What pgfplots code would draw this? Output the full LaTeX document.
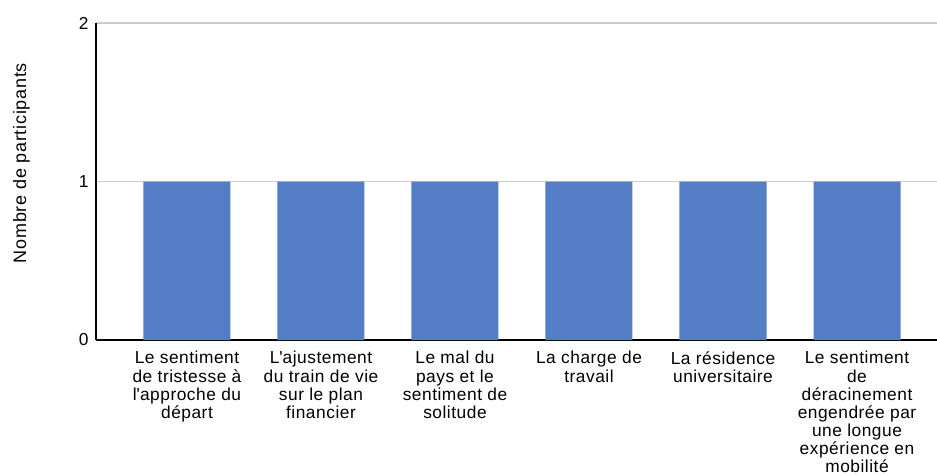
\documentclass[border=0pt]{standalone}
\usepackage{pgfplots}
\pgfplotsset{compat=1.18}
\usepackage{fontspec}
\setmainfont{Liberation Sans}
\definecolor{barblue}{RGB}{83,125,196}
\definecolor{gridgray}{RGB}{204,204,204}
\newcommand{\q}{\textquotesingle}
\begin{document}
\begin{tikzpicture}
\path[use as bounding box] (-72pt,-101.25pt) rectangle (630.75pt,255pt);
\begin{axis}[
  at={(0,0)}, anchor=south west,
  x=100.5pt, y=118.875pt,
  xmin=-0.679, xmax=5.597,
  ymin=0, ymax=2,
  axis x line=bottom, axis y line=left,
  axis line style={-, black, line width=0.9pt},
  ytick={0,1,2},
  ymajorgrids,
  grid style={gridgray, line width=0.8pt},
  major tick length=0pt,
  xtick={0,1,2,3,4,5},
  xticklabels={
    {Le sentiment\\de tristesse à\\l\q approche du\\départ},
    {L\q ajustement\\du train de vie\\sur le plan\\financier},
    {Le mal du\\pays et le\\sentiment de\\solitude},
    {La charge de\\travail},
    {La résidence\\universitaire},
    {Le sentiment\\de\\déracinement\\engendrée par\\une longue\\expérience en\\mobilité}},
  xticklabel style={align=center, font=\fontsize{13}{13.6}\selectfont\addfontfeature{LetterSpace=3}, anchor=north, yshift=-5pt},
  yticklabel style={font=\fontsize{13}{13.6}\selectfont, xshift=-2pt},
  /pgf/number format/assume math mode=true,
  ylabel={Nombre de participants},
  ylabel style={font=\fontsize{13.5}{14}\selectfont\addfontfeature{LetterSpace=4}, at={(axis description cs:0,0.558)}, anchor=south, yshift=46pt},
  clip=false,
]
\addplot[ybar, bar width=65.25pt, fill=barblue, draw=none] coordinates {(0,1) (1,1) (2,1) (3,1) (4,1) (5,1)};
\end{axis}
\end{tikzpicture}
\end{document}
